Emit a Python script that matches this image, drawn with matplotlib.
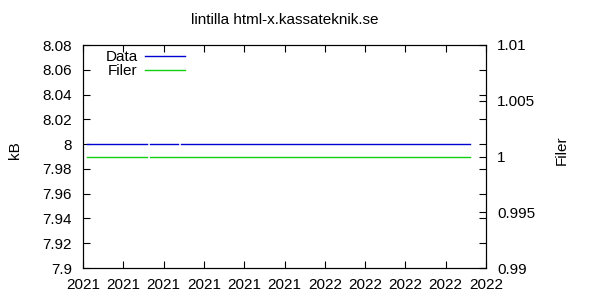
import numpy as np
import pandas as pd
import matplotlib
matplotlib.use("Agg")
import matplotlib.pyplot as plt
import matplotlib.dates as mdates

plt.rcParams['font.family'] = ['Liberation Sans', 'DejaVu Sans']
plt.rcParams['font.size'] = 11

# Measurements (NaN = missing sample, breaks the line)
blue_dates = pd.to_datetime(["2021-07-18", "2021-09-01", "2021-09-02", "2021-09-03",
                             "2021-09-24", "2021-09-25", "2021-09-26", "2022-04-29"])
blue_kb = [8, 8, np.nan, 8, 8, np.nan, 8, 8]

filer_dates = pd.to_datetime(["2021-07-18", "2021-09-01", "2021-09-02", "2021-09-03",
                              "2022-04-29"])
filer_count = [1, 1, np.nan, 1, 1]

x_start = pd.Timestamp("2021-07-15")
x_end = x_start + pd.Timedelta(days=300)
tick_dates = pd.date_range(x_start, x_end, freq="30D")

fig = plt.figure(figsize=(6, 3), dpi=100)
fig.subplots_adjust(left=83/600, right=486/600, top=1-45/300, bottom=1-268/300)
ax = fig.add_subplot(111)
ax2 = ax.twinx()

l1, = ax.plot(blue_dates, blue_kb, color='#0000d0', lw=1, label='Data')
l2, = ax2.plot(filer_dates, filer_count, color='#10d010', lw=1, label='Filer')

ax.set_xlim(x_start, x_end)
ax.set_ylim(7.9, 8.08)
ax.set_yticks(np.arange(7.9, 8.081, 0.02))
ax.set_yticklabels(["7.9", "7.92", "7.94", "7.96", "7.98", "8", "8.02", "8.04", "8.06", "8.08"])
ax2.set_ylim(0.99, 1.01)
ax2.set_yticks([0.99, 0.995, 1, 1.005, 1.01])
ax2.set_yticklabels(["0.99", "0.995", "1", "1.005", "1.01"])

ax.set_xticks(tick_dates)
ax.xaxis.set_major_formatter(mdates.DateFormatter("%Y"))

ax.tick_params(direction='in', length=5, width=0.8, top=True, right=True, labelsize=11)
ax.tick_params(axis='y', pad=8)
ax.tick_params(axis='x', pad=7)
ax2.tick_params(direction='in', length=5, width=0.8, labelsize=11, pad=8)
for a in (ax, ax2):
    for s in a.spines.values():
        s.set_linewidth(0.8)

fig.text(0.474, 1-20/300, "lintilla html-x.kassateknik.se", ha='center', va='center', fontsize=11)
fig.text(15/600, 0.5, "kB", rotation=90, ha='center', va='center', fontsize=11)
fig.text(562/600, 0.5, "Filer", rotation=90, ha='center', va='center', fontsize=11)

ax.legend(handles=[l1, l2], loc='upper right', bbox_to_anchor=(0.253, 0.978),
          frameon=False, markerfirst=False, handlelength=2.6, handletextpad=0.5,
          labelspacing=0.0, fontsize=11, borderaxespad=0, borderpad=0)

fig.savefig("out.png", dpi=100)
